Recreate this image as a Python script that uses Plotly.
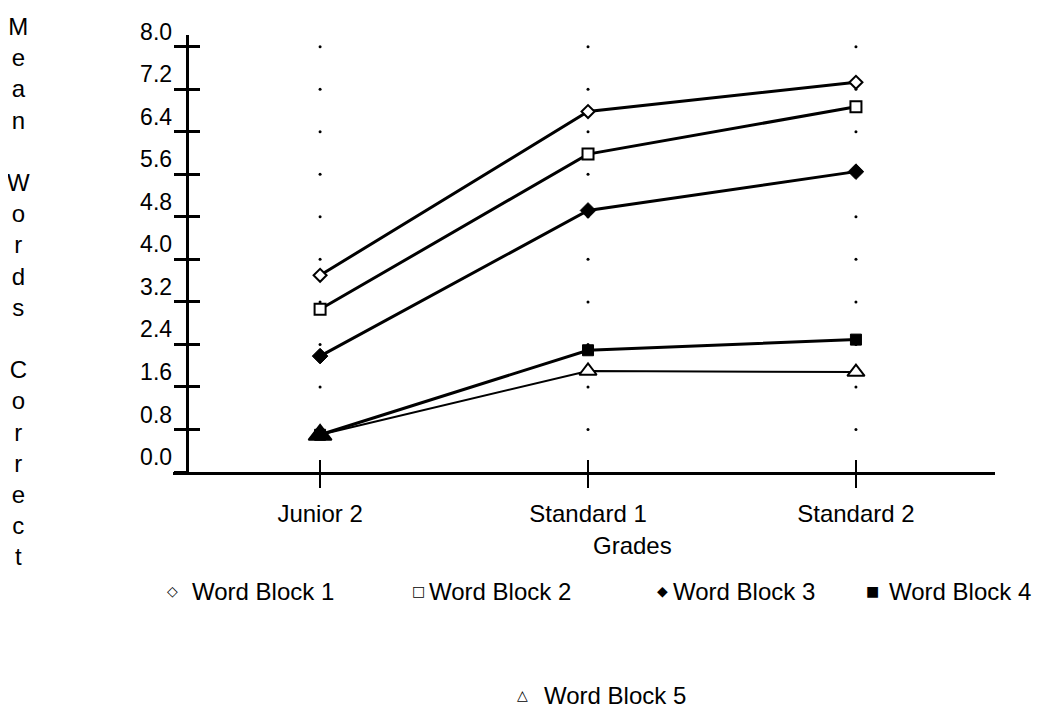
import plotly.graph_objects as go

# data
grades = ['Junior 2', 'Standard 1', 'Standard 2']
block_names = ['Word Block 1', 'Word Block 2', 'Word Block 3', 'Word Block 4', 'Word Block 5']
word_block_1 = [3.70, 6.78, 7.33]
word_block_2 = [3.06, 5.98, 6.87]
word_block_3 = [2.18, 4.92, 5.65]
word_block_4 = [0.70, 2.29, 2.49]
word_block_5 = [0.70, 1.90, 1.88]
y_ticks = [0.0, 0.8, 1.6, 2.4, 3.2, 4.0, 4.8, 5.6, 6.4, 7.2, 8.0]
y_tick_text = ['0.0', '0.8', '1.6', '2.4', '3.2', '4.0', '4.8', '5.6', '6.4', '7.2', '8.0']
legend_glyphs = ['\u25c7', '\u25a1', '\u25c6', '\u25a0', '\u25b3']

FONT = 'Liberation Sans, Arial, sans-serif'
OFF = 8  # the page body margin shifts the figure by this much
W, H = 1052 - OFF, 709 - OFF
L, R, T, B = 173 - OFF, 57, 35 - OFF, 237
PW, PH = W - L - R, H - T - B


# helpers: screen pixel -> paper fraction
def px_x(px):
    return (px - OFF - L) / PW


def px_y(py):
    return (OFF + H - B - py) / PH


styles = [
    dict(symbol='diamond', size=10, color='white', line=dict(color='black', width=2)),
    dict(symbol='square', size=11, color='white', line=dict(color='black', width=2)),
    dict(symbol='diamond', size=12, color='black', line=dict(color='black', width=1)),
    dict(symbol='square', size=11, color='black', line=dict(color='black', width=1)),
    # first triangle overprinted solid in the original
    dict(symbol='triangle-up', size=[20, 15, 15], color=['black', 'white', 'white'],
         line=dict(color='black', width=2), opacity=1),
]
series = [word_block_1, word_block_2, word_block_3, word_block_4, word_block_5]
widths = [3, 3, 3, 3, 2]

fig = go.Figure()

# dotted grid: a small dot at every grade for every tick value
dot_x, dot_y = [], []
for g in grades:
    for v in y_ticks[1:]:
        dot_x.append(g)
        dot_y.append(v)
fig.add_trace(go.Scatter(x=dot_x, y=dot_y, mode='markers',
                         marker=dict(size=3, color='black'),
                         showlegend=False, hoverinfo='skip'))

for i in range(5):
    fig.add_trace(go.Scatter(
        x=grades, y=series[i], name=block_names[i], mode='lines+markers',
        line=dict(color='black', width=widths[i]),
        marker=styles[i], showlegend=False,
    ))

y_range = [0, 8.22]
x_range = [-0.549, 2.519]
y_pos = (186.7 - 173) / PW

fig.update_layout(
    width=W, height=H, autosize=False,
    margin=dict(l=L, r=R, t=T, b=B),
    paper_bgcolor='white', plot_bgcolor='white',
    font=dict(family=FONT, color='black', size=24),
    showlegend=False,
    xaxis=dict(
        range=x_range, showgrid=False, zeroline=False,
        showline=True, linecolor='black', linewidth=3,
        ticks='outside', ticklen=13, tickwidth=2, tickcolor='black',
        tickfont=dict(size=24), ticklabelstandoff=5,
    ),
    xaxis2=dict(
        overlaying='x', range=x_range, type='linear',
        tickvals=[0, 1, 2], showticklabels=False, showgrid=False,
        zeroline=False, ticks='inside', ticklen=12, tickwidth=2,
        tickcolor='black', anchor='y', side='bottom',
    ),
    yaxis=dict(
        range=y_range, anchor='free', position=y_pos,
        tickvals=y_ticks, ticktext=y_tick_text,
        showgrid=False, zeroline=False,
        showline=True, linecolor='black', linewidth=3,
        ticks='outside', ticklen=12, tickwidth=3, tickcolor='black',
        tickfont=dict(size=23), ticklabelshift=-15, ticklabelstandoff=-3,
    ),
    yaxis2=dict(
        overlaying='y', range=y_range, anchor='free', position=y_pos,
        tickvals=y_ticks, showticklabels=False, showgrid=False,
        zeroline=False, ticks='inside', ticklen=12, tickwidth=3,
        tickcolor='black', side='left',
    ),
)

# empty trace to activate the secondary axes used for crossing ticks
fig.add_trace(go.Scatter(x=[None], y=[None], xaxis='x2', yaxis='y2',
                         showlegend=False, hoverinfo='skip'))

# stacked y title
title_text = '<br>'.join(ch if ch != ' ' else '\u00a0' for ch in 'Mean Words Correct')
fig.add_annotation(text=title_text, xref='paper', yref='paper',
                   x=px_x(18), y=px_y(291), xanchor='center', yanchor='middle',
                   showarrow=False, font=dict(size=24))

fig.add_annotation(text='Grades', xref='paper', yref='paper',
                   x=px_x(632), y=px_y(545), xanchor='center', yanchor='middle',
                   showarrow=False, font=dict(size=24))

# legend drawn as text rows like the original
glyph_x = [172, 418, 662, 872, 522]
text_x = [190, 427, 671, 887, 542]
row_y = [591, 591, 591, 591, 695]
for i, name in enumerate(block_names):
    fig.add_annotation(text=legend_glyphs[i], xref='paper', yref='paper',
                       x=px_x(glyph_x[i]), y=px_y(row_y[i]),
                       xanchor='center', yanchor='middle', showarrow=False,
                       font=dict(size=14, family='DejaVu Sans'))
    fig.add_annotation(text=name, xref='paper', yref='paper',
                       x=px_x(text_x[i]), y=px_y(row_y[i]),
                       xanchor='left', yanchor='middle', showarrow=False,
                       font=dict(size=24))

fig.write_html("out.html")
